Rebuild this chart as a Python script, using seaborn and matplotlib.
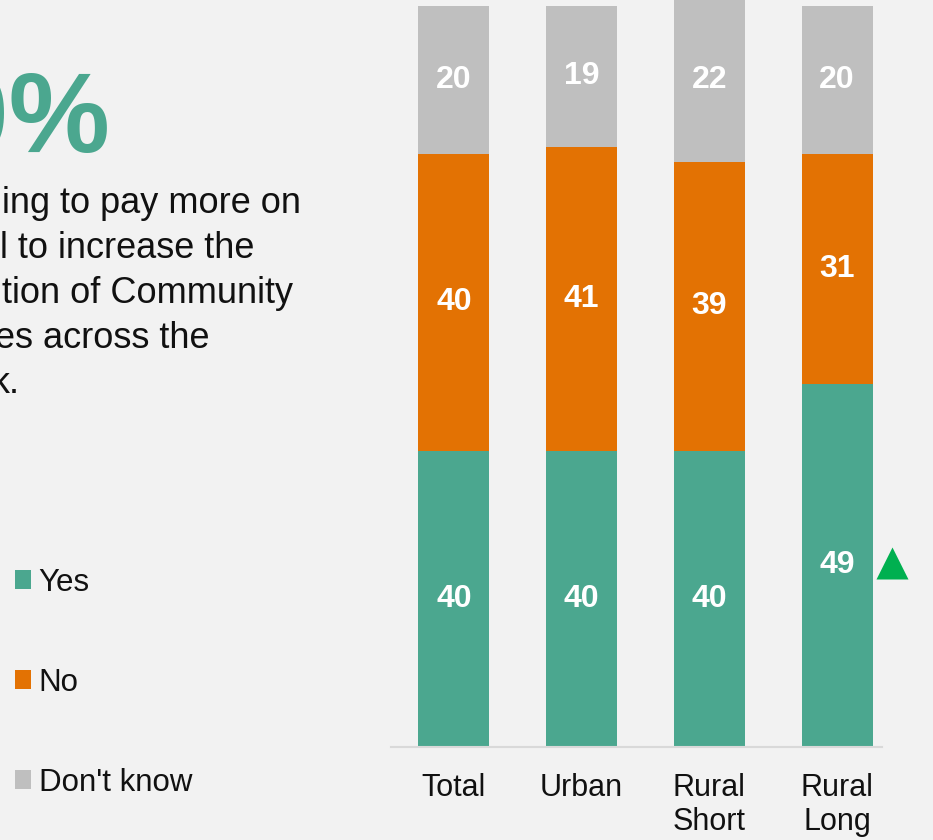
import numpy as np
import pandas as pd
import seaborn as sns
import matplotlib.pyplot as plt
from matplotlib.patches import Patch

# Survey answers by area type (percent of respondents)
groups = ["Total", "Urban", "Rural\nShort", "Rural\nLong"]
yes = [40, 40, 40, 49]
no = [40, 41, 39, 31]
dont_know = [20, 19, 22, 20]

series_names = ["Yes", "No", "Don't know"]
series_colors = ["#4BA78F", "#E37203", "#BFBFBF"]
flagged_groups = ["Rural\nLong"]  # Yes share significantly above total

headline = "40%"
body_lines = [
    "ing to pay more on",
    "l to increase the",
    "tion of Community",
    "es across the",
    "k.",
]

W, H = 933, 840
BG = "#F2F2F2"

sns.set_theme(style="white")
plt.rcParams["font.family"] = ["Liberation Sans", "DejaVu Sans"]

fig = plt.figure(figsize=(W / 100, H / 100), dpi=100, facecolor=BG)
ax = fig.add_axes([391 / W, 1 - 747 / H, 491 / W, 747 / H])
ax.set_facecolor(BG)

df = pd.DataFrame({"group": groups, "Yes": yes, "No": no, "Don't know": dont_know})
tops = df[series_names].cumsum(axis=1)

# Stack by drawing cumulative totals from the top layer down
for name, color in reversed(list(zip(series_names, series_colors))):
    sns.barplot(x=df["group"], y=tops[name], color=color, saturation=1,
                width=0.556, errorbar=None, linewidth=0, edgecolor="none", ax=ax)

# Segment values centred in each block
for name in series_names:
    bottoms = tops[name] - df[name]
    for i, (b, v) in enumerate(zip(bottoms, df[name])):
        ax.text(i, b + v / 2, f"{v}", ha="center", va="center", color="white",
                fontsize=23, fontweight="bold")

# Significance marker next to flagged groups
for g in flagged_groups:
    i = groups.index(g)
    ax.plot(i + 0.43, yes[i] / 2 + 0.3, marker="^", ms=22.5, color="#00B050",
            mec="none", clip_on=False, linestyle="none")

ax.set_xlim(-0.493, 3.352)
ax.set_ylim(0, 100.8)
ax.set_xlabel("")
ax.set_ylabel("")
ax.set_yticks([])
for s in ["top", "left", "right"]:
    ax.spines[s].set_visible(False)
ax.spines["bottom"].set_color("#D9D9D9")
ax.spines["bottom"].set_linewidth(1.5)
ax.tick_params(axis="x", length=0, pad=19, labelsize=22, labelcolor="#111111")
for t in ax.get_xticklabels():
    t.set_linespacing(1.17)

# Legend on the left
handles = [Patch(facecolor=c, edgecolor="none") for c in series_colors]
fig.legend(handles, series_names, loc="upper left",
           bbox_to_anchor=(-1 / W, 1 - 552 / H), frameon=False,
           fontsize=22.5, handlelength=0.52, handleheight=0.52,
           handletextpad=0.25, labelspacing=2.24, borderpad=0,
           labelcolor="#111111")

# Headline figure and description
fig.text(110 / W, 1 - 152 / H, headline, ha="right", va="baseline",
         fontsize=82, fontweight="bold", color="#4BA78F")
line_x = [1.7, 0, 1.7, -5, -8]
for k, (txt, x0) in enumerate(zip(body_lines, line_x)):
    fig.text(x0 / W, 1 - (213 + 45 * k) / H, txt, ha="left", va="baseline",
             fontsize=26, color="#111111")

fig.savefig("out.png", dpi=100, facecolor=BG)
